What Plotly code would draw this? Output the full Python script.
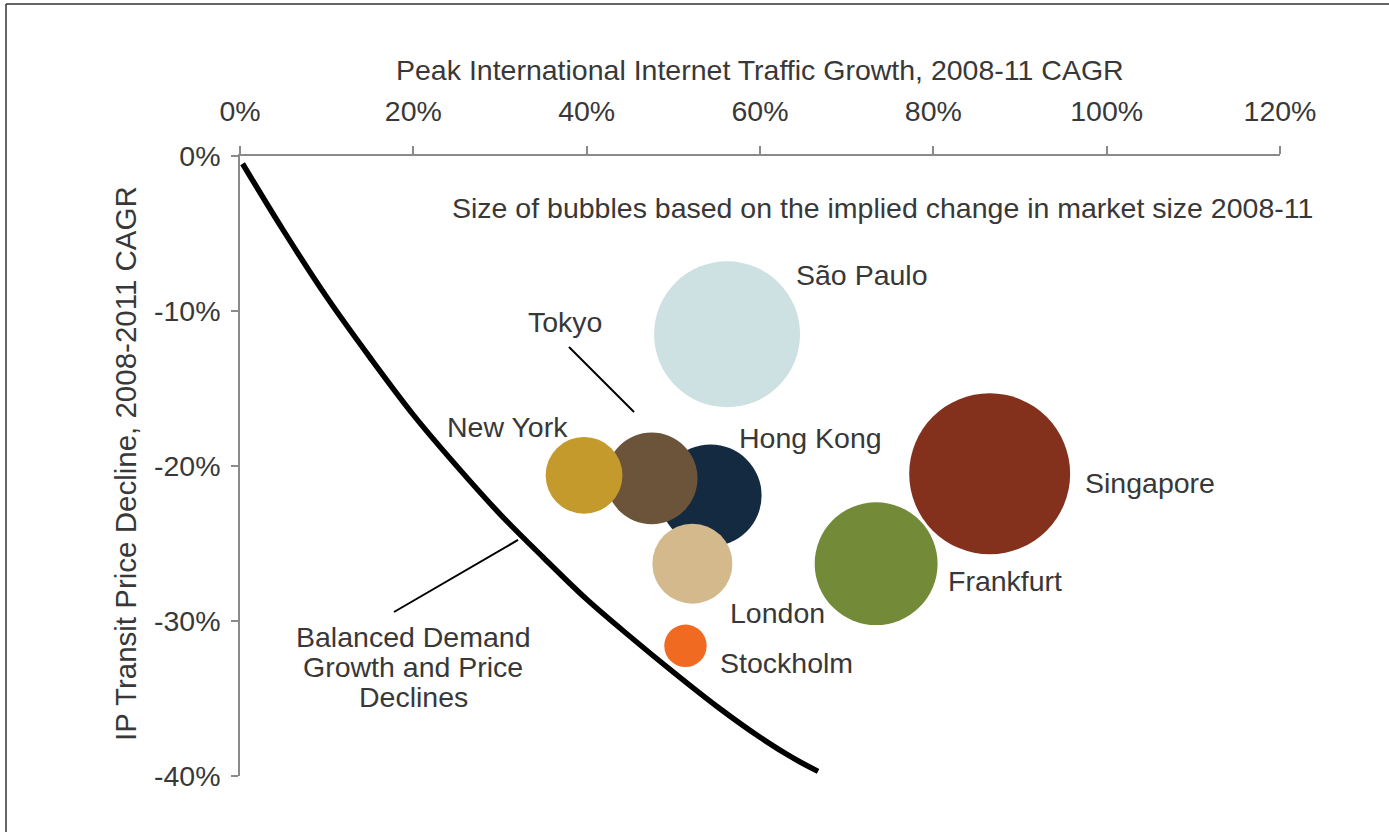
import plotly.graph_objects as go

# ---- data ----
cities = ["São Paulo", "Singapore", "Frankfurt", "Hong Kong", "Tokyo", "New York", "London", "Stockholm"]
traffic_growth = [56.2, 86.5, 73.4, 54.3, 47.5, 39.7, 52.2, 51.4]       # % CAGR (x)
price_decline = [-11.5, -20.5, -26.3, -21.9, -20.8, -20.6, -26.3, -31.6]  # % CAGR (y)
market_change = [213, 259, 151, 104, 84, 59, 64, 18]                     # relative bubble size
colors = ["#cde0e2", "#83301c", "#738a38", "#132a40", "#6b5439", "#c49a2c", "#d3b98b", "#f06a22"]

curve_growth = [0.3, 5, 10, 15, 20, 25, 30, 35, 40, 45, 50, 55, 60, 64, 66.7]
curve_decline = [-0.5, -4.8, -9.1, -13.0, -16.7, -20.0, -23.1, -25.9, -28.6, -31.0, -33.3, -35.5, -37.5, -38.9, -39.7]

x_ticks = [0, 20, 40, 60, 80, 100, 120]
y_ticks = [0, -10, -20, -30, -40]

# label positions (data coords)
label_x = [71.8, 105.0, 88.3, 65.8, 37.5, 30.9, 62.0, 63.0]
label_y = [-7.7, -21.1, -27.4, -18.2, -10.7, -17.5, -29.5, -32.7]

balanced_lines = ["Balanced Demand", "Growth and Price", "Declines"]
balanced_x = 20.0
balanced_y = [-31.0, -32.95, -34.9]

FONT = "Liberation Sans, Arial, sans-serif"
FS = 28.5
TXT = "#383838"
AX = "#8a8a8a"

fig = go.Figure()

fig.add_trace(go.Scatter(
    x=curve_growth, y=curve_decline, mode="lines",
    line=dict(color="black", width=5.5, shape="spline"),
    hoverinfo="skip", showlegend=False))

for i, c in enumerate(cities):
    fig.add_trace(go.Scatter(
        x=[traffic_growth[i]], y=[price_decline[i]], mode="markers",
        marker=dict(size=[market_change[i]], sizemode="area", sizeref=0.02,
                    color=colors[i], opacity=1, line=dict(width=0)),
        name=c, showlegend=False))

ann = []
for i, c in enumerate(cities):
    ann.append(dict(x=label_x[i], y=label_y[i], text=c, showarrow=False,
                    xanchor="center", yanchor="middle",
                    font=dict(size=FS, color=TXT, family=FONT)))

for t, yy in zip(balanced_lines, balanced_y):
    ann.append(dict(x=balanced_x, y=yy, text=t, showarrow=False,
                    xanchor="center", yanchor="middle",
                    font=dict(size=FS, color=TXT, family=FONT)))

ann.append(dict(x=74.1, y=-3.35, text="Size of bubbles based on the implied change in market size 2008-11",
                showarrow=False, xanchor="center", yanchor="middle",
                font=dict(size=FS, color=TXT, family=FONT)))
ann.append(dict(xref="paper", yref="paper", x=(760 - 240) / 1040, y=(776 - 70) / 620,
                text="Peak International Internet Traffic Growth, 2008-11 CAGR",
                showarrow=False, xanchor="center", yanchor="middle",
                font=dict(size=FS, color=TXT, family=FONT)))
ann.append(dict(xref="paper", yref="paper", x=(125 - 240) / 1040, y=(776 - 464) / 620,
                text="IP Transit Price Decline, 2008-2011 CAGR", textangle=-90,
                showarrow=False, xanchor="center", yanchor="middle",
                font=dict(size=29.5, color=TXT, family=FONT)))

shapes = [
    # leader lines
    dict(type="line", x0=37.96, y0=-12.32, x1=45.46, y1=-16.52, line=dict(color="black", width=2)),
    dict(type="line", x0=17.77, y0=-29.42, x1=32.08, y1=-24.77, line=dict(color="black", width=2)),
    # frame
    dict(type="line", xref="paper", yref="paper", x0=(6 - 240) / 1040, y0=(776 - 4) / 620,
         x1=(1389 - 240) / 1040, y1=(776 - 4) / 620, line=dict(color="#333", width=1.5)),
    dict(type="line", xref="paper", yref="paper", x0=(6 - 240) / 1040, y0=(776 - 4) / 620,
         x1=(6 - 240) / 1040, y1=(776 - 840) / 620, line=dict(color="#333", width=1.5)),
]

fig.update_layout(
    width=1389, height=832,
    margin=dict(l=240, r=109, t=156, b=56, autoexpand=False),
    paper_bgcolor="white", plot_bgcolor="white",
    annotations=ann, shapes=shapes,
    xaxis=dict(range=[0, 120], side="top", tickvals=x_ticks,
               ticktext=[f"{v}%" for v in x_ticks],
               showline=True, linecolor=AX, linewidth=1.5, showgrid=False, zeroline=False,
               ticks="outside", ticklen=8, tickcolor=AX, tickwidth=1.5,
               ticklabelstandoff=14, automargin=False,
               tickfont=dict(size=FS, color=TXT, family=FONT)),
    yaxis=dict(range=[-40, 0], tickvals=y_ticks,
               ticktext=[f"{v}%" for v in y_ticks],
               showline=True, linecolor=AX, linewidth=1.5, showgrid=False, zeroline=False,
               ticks="outside", ticklen=7, tickcolor=AX, tickwidth=1.5,
               ticklabelstandoff=5, automargin=False,
               tickfont=dict(size=FS, color=TXT, family=FONT)),
)

fig.write_html("out.html", config={"displayModeBar": False},
               post_script="document.body.style.margin='0px';")
